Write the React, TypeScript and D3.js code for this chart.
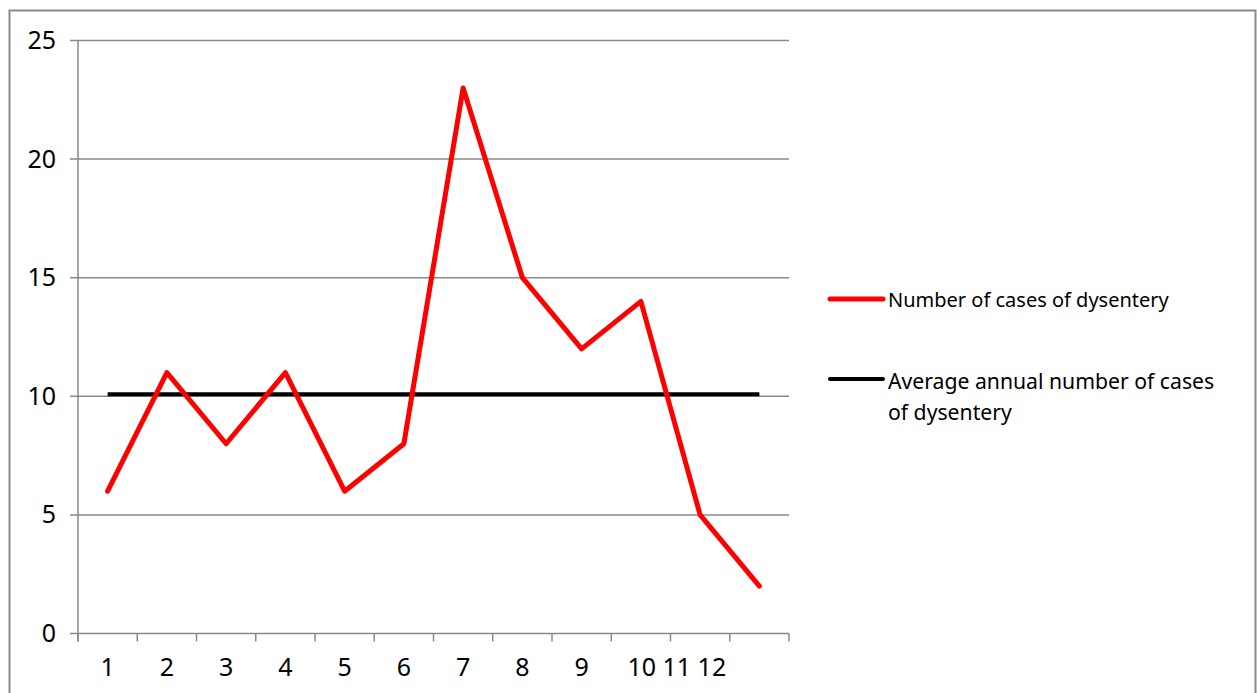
import React from "react";
import * as d3 from "d3";

// Monthly counts of dysentery cases
const months = ["1", "2", "3", "4", "5", "6", "7", "8", "9", "10", "11", "12"];
const cases = [6, 11, 8, 11, 6, 8, 23, 15, 12, 14, 5, 2];
const yTicks = [0, 5, 10, 15, 20, 25];
// Axis labels as they appear under the categories; the last three run together
const xTickLabels = ["1", "2", "3", "4", "5", "6", "7", "8", "9", "10 11 12"];
const seriesNames = ["Number of cases of dysentery", "Average annual number of cases", "of dysentery"];

const W = 1257;
const H = 693;
const plot = { left: 78, right: 789, top: 40.5, bottom: 633.5 };
const FONT = "'Noto Sans', 'Open Sans', sans-serif";
const GRID = "#898989";

export default function App() {
  const average = d3.mean(cases) as number;

  const x = d3
    .scaleBand<string>()
    .domain(months)
    .range([plot.left, plot.right])
    .paddingInner(0)
    .paddingOuter(0);
  const cx = (m: string) => (x(m) as number) + x.bandwidth() / 2;

  const y = d3.scaleLinear().domain([0, 25]).range([plot.bottom, plot.top]);

  const line = d3
    .line<number>()
    .x((_, i) => cx(months[i]))
    .y((d) => y(d));

  const avgLine = d3
    .line<string>()
    .x((m) => cx(m))
    .y(() => y(average));

  const boundaries = months.map((m) => x(m) as number).concat([plot.right]);

  return (
    <svg
      width={W}
      height={H}
      style={{ position: "absolute", left: 0, top: 0, background: "#fff" }}
      fontFamily={FONT}
    >
      {/* chart frame */}
      <rect x={9.5} y={10.5} width={1246} height={700} fill="#fff" stroke={GRID} strokeWidth={2} />

      {/* horizontal gridlines with left tick stubs */}
      {yTicks.map((t) => (
        <g key={t}>
          <line x1={70} x2={plot.right} y1={y(t)} y2={y(t)} stroke={GRID} strokeWidth={1.5} />
          <text x={56} y={y(t) + 8.5} textAnchor="end" fontSize={25} fill="#000">
            {t}
          </text>
        </g>
      ))}

      {/* vertical axis */}
      <line x1={plot.left} x2={plot.left} y1={plot.top} y2={plot.bottom + 8} stroke={GRID} strokeWidth={1.5} />

      {/* category boundary ticks */}
      {boundaries.map((bx, i) => (
        <line key={i} x1={bx} x2={bx} y1={plot.bottom} y2={plot.bottom + 8} stroke={GRID} strokeWidth={1.5} />
      ))}

      {/* category labels */}
      {xTickLabels.map((lab, i) => {
        const single = lab.indexOf(" ") < 0;
        return (
          <text
            key={lab}
            x={single ? cx(months[i]) : cx(months[i]) - 13.5}
            y={676}
            textAnchor={single ? "middle" : "start"}
            fontSize={25}
            fill="#000"
            style={{ whiteSpace: "pre" }}
          >
            {lab}
          </text>
        );
      })}

      {/* average line */}
      <path d={avgLine(months) as string} fill="none" stroke="#000" strokeWidth={4} />

      {/* monthly cases */}
      <path
        d={line(cases) as string}
        fill="none"
        stroke="#ff0000"
        strokeWidth={5}
        strokeLinejoin="round"
        strokeLinecap="round"
      />

      {/* legend */}
      <g fill="#000">
        <line x1={830} x2={883} y1={299} y2={299} stroke="#ff0000" strokeWidth={5} strokeLinecap="round" />
        <text x={888} y={306.5} fontSize={20}>{seriesNames[0]}</text>
        <line x1={830} x2={883} y1={379} y2={379} stroke="#000" strokeWidth={4} strokeLinecap="round" />
        <text x={888} y={389} fontSize={21.2}>{seriesNames[1]}</text>
        <text x={888} y={419.5} fontSize={21.2}>{seriesNames[2]}</text>
      </g>
    </svg>
  );
}
